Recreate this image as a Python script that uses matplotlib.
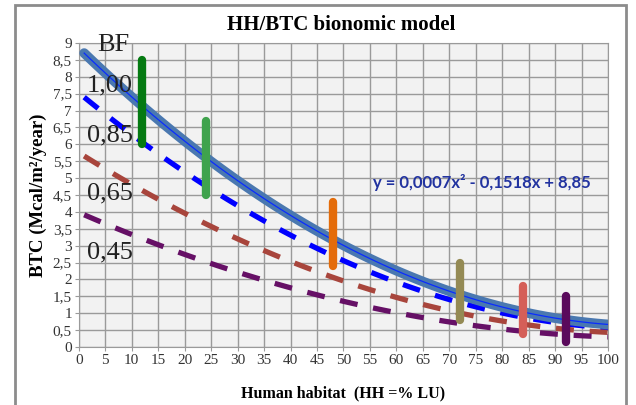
import numpy as np
import matplotlib.pyplot as plt
from matplotlib.patches import Rectangle

# trend line coefficients (a*x^2 + b*x + c)
coef = [0.0007, -0.1518, 8.85]
hh = np.arange(1, 101)

# bionomic factors applied to the trend line
bf_values = [0.85, 0.65, 0.45]
bf_colors = ['#0000ff', '#a8453c', '#661066']
bf_labels = ['1,00', '0,85', '0,65', '0,45']
bf_label_y = [7.75, 6.27, 4.56, 2.81]

# observed BTC ranges at given HH values
bar_x = [12, 24, 48, 72, 84, 92]
bar_low = [6.0, 4.5, 2.4, 0.8, 0.4, 0.15]
bar_high = [8.5, 6.7, 4.3, 2.5, 1.8, 1.5]
bar_colors = ['#057a12', '#3fa34d', '#e46c0a', '#948a54', '#d55f58', '#5a0a5c']

xticks = list(range(0, 101, 5))
yticks = [i * 0.5 for i in range(19)]

plt.rcParams['font.family'] = ['Liberation Serif', 'DejaVu Serif']

fig = plt.figure(figsize=(6.36, 4.05), dpi=100)
ax = fig.add_axes([0.124, 0.143, 0.832, 0.751])

btc = np.polyval(coef, hh)

ax.set_facecolor('#f2f2f2')
ax.set_xlim(0, 100)
ax.set_ylim(0, 9)
ax.set_xticks(xticks)
ax.set_yticks(yticks)
ax.set_yticklabels([f'{v:g}'.replace('.', ',') for v in yticks])
ax.grid(True, color='#9a9a9a', linewidth=1.0)
ax.set_axisbelow(True)
for s in ax.spines.values():
    s.set_color('#9a9a9a')
ax.tick_params(colors='#9a9a9a', labelcolor='#333333', labelsize=11, length=3, pad=2)

for f, c in zip(bf_values, bf_colors):
    ax.plot(hh, btc * f, color=c, linewidth=3.8, dashes=(3.4, 3.0), zorder=3)

ax.plot(hh, btc, color='#4a78b0', linewidth=7, solid_capstyle='round', zorder=4)
ax.plot(hh, btc, color='#0a2cff', linewidth=0.9, zorder=5)

for x, lo, hi, c in zip(bar_x, bar_low, bar_high, bar_colors):
    ax.plot([x, x], [lo, hi], color=c, linewidth=6, solid_capstyle='round', zorder=6)

ax.text(3.4, 8.95, 'BF', fontsize=19, ha='left', va='center', color='#222222', zorder=7)
for lab, y in zip(bf_labels, bf_label_y):
    ax.text(1.5, y, lab, fontsize=19, ha='left', va='center', color='#222222', zorder=7)

ax.text(55.6, 4.88, 'y = 0,0007x² - 0,1518x + 8,85', fontsize=12, fontweight='bold',
        color='#2233a0', family=['Lato', 'DejaVu Sans'], ha='left', va='center', zorder=7)

fig.text(0.536, 0.938, 'HH/BTC bionomic model', fontsize=15, fontweight='bold', ha='center', va='center')
ax.set_xlabel('Human habitat  (HH =% LU)', fontsize=11.5, fontweight='bold', labelpad=13)
ax.set_ylabel('BTC (Mcal/m²/year)', fontsize=13.5, fontweight='bold', labelpad=4)

fig.patches.append(Rectangle((15 / 636, -0.05), 611 / 636, 1 - 5 / 405 + 0.05, transform=fig.transFigure,
                             fill=False, edgecolor='#8c8c8c', linewidth=2))

fig.savefig('out.png', dpi=100)
